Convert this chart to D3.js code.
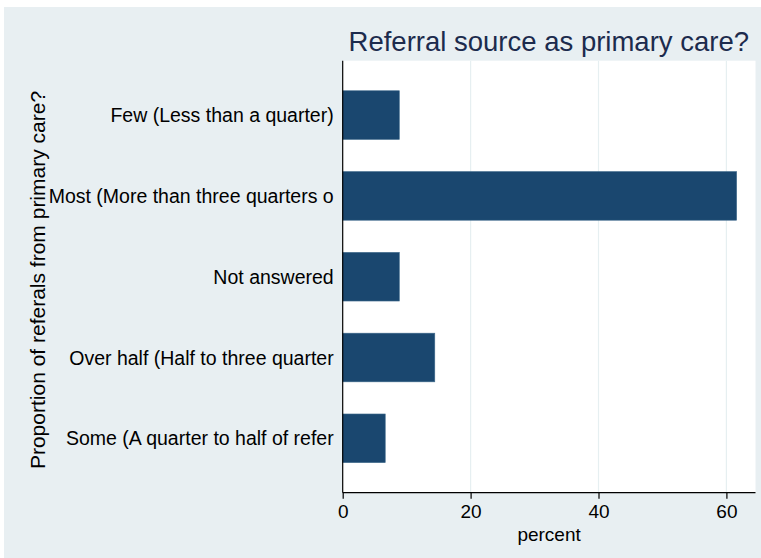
<!DOCTYPE html>
<html>
<head>
<meta charset="utf-8">
<script src="https://cdn.jsdelivr.net/npm/d3@7"></script>
<style>
  html, body { margin: 0; padding: 0; background: #ffffff; }
  svg { display: block; font-family: "Liberation Sans", Arial, Helvetica, sans-serif; }
</style>
</head>
<body>
<svg id="chart" width="761" height="558"></svg>
<script>
const categories = [
  "Few (Less than a quarter)",
  "Most (More than three quarters o",
  "Not answered",
  "Over half (Half to three quarter",
  "Some (A quarter to half of refer"
];
const percentValues = [8.85, 61.6, 8.85, 14.4, 6.65];
const xTicks = [0, 20, 40, 60];
const titleText = "Referral source as primary care?";
const xTitle = "percent";
const yTitle = "Proportion of referals from primary care?";

const W = 761, H = 558;
const plot = { left: 342.7, right: 755.5, top: 60.7, bottom: 492.7 };

const svg = d3.select("#chart");

// outer background
svg.append("rect")
  .attr("x", 4).attr("y", 7).attr("width", W - 4).attr("height", H - 7)
  .attr("fill", "#e8eff2");

// plot region
svg.append("rect")
  .attr("x", plot.left).attr("y", plot.top)
  .attr("width", plot.right - plot.left).attr("height", plot.bottom - plot.top)
  .attr("fill", "#ffffff");

const x = d3.scaleLinear().domain([0, 64.55]).range([plot.left, plot.right]);
const y = d3.scaleBand().domain(categories).range([plot.top, plot.bottom])
  .paddingInner(0.398).paddingOuter(0.372);

// gridlines
svg.append("g").selectAll("line")
  .data(xTicks.filter(d => d > 0))
  .join("line")
  .attr("x1", d => x(d)).attr("x2", d => x(d))
  .attr("y1", plot.top).attr("y2", plot.bottom)
  .attr("stroke", "#e6eff1").attr("stroke-width", 1.2);

// bars
svg.append("g").selectAll("rect")
  .data(categories.map((c, i) => ({ c, v: percentValues[i] })))
  .join("rect")
  .attr("x", x(0))
  .attr("y", d => y(d.c))
  .attr("width", d => x(d.v) - x(0))
  .attr("height", y.bandwidth())
  .attr("fill", "#1a476f")
  .attr("stroke", "#3f6a8c").attr("stroke-width", 0.6);

// x axis
const xAxis = d3.axisBottom(x).tickValues(xTicks).tickSize(6).tickPadding(6).tickSizeOuter(0);
const gx = svg.append("g").attr("transform", `translate(0,${plot.bottom})`).call(xAxis);
gx.select(".domain").attr("stroke", "#000").attr("stroke-width", 1.2)
  .attr("d", `M${plot.left},0H${plot.right}`);
gx.selectAll(".tick line").attr("stroke", "#000").attr("stroke-width", 1.2);
gx.selectAll(".tick text")
  .attr("font-size", 19).attr("fill", "#000")
  .attr("font-family", "'Liberation Sans', Arial, sans-serif");

// y axis
const yAxis = d3.axisLeft(y).tickSize(0).tickPadding(9);
const gy = svg.append("g").attr("transform", `translate(${plot.left},0)`).call(yAxis);
gy.select(".domain").attr("stroke", "#000").attr("stroke-width", 1.2)
  .attr("d", `M0,${plot.top}V${plot.bottom}`);
gy.selectAll(".tick text")
  .attr("font-size", 19.5).attr("fill", "#000")
  .attr("dy", "0.36em")
  .attr("font-family", "'Liberation Sans', Arial, sans-serif");

// title
svg.append("text")
  .attr("x", 749).attr("y", 51)
  .attr("text-anchor", "end")
  .attr("font-size", 27.5)
  .attr("fill", "#1c2b4d")
  .text(titleText);

// x title
svg.append("text")
  .attr("x", (plot.left + plot.right) / 2).attr("y", 541)
  .attr("text-anchor", "middle")
  .attr("font-size", 19)
  .attr("fill", "#000")
  .text(xTitle);

// y title
svg.append("text")
  .attr("transform", `translate(45,280) rotate(-90)`)
  .attr("text-anchor", "middle")
  .attr("font-size", 21)
  .attr("fill", "#000")
  .text(yTitle);
</script>
</body>
</html>
